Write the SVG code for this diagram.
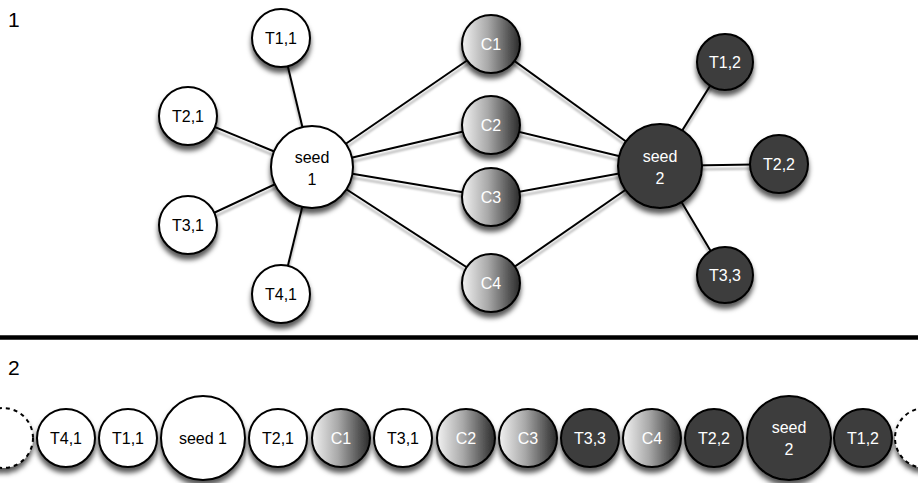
<svg xmlns="http://www.w3.org/2000/svg" width="918" height="483" viewBox="0 0 918 483">
<defs>
<linearGradient id="cg" x1="0" y1="0" x2="1" y2="0">
<stop offset="0" stop-color="#f2f2f2"/>
<stop offset="0.45" stop-color="#a8a8a8"/>
<stop offset="1" stop-color="#2a2a2a"/>
</linearGradient>
<filter id="sh" x="-30%" y="-30%" width="160%" height="170%">
<feDropShadow dx="0" dy="5" stdDeviation="2.5" flood-color="#000" flood-opacity="0.65"/>
</filter>
<filter id="lsh" x="-10%" y="-10%" width="120%" height="140%">
<feDropShadow dx="0" dy="4" stdDeviation="1.3" flood-color="#000" flood-opacity="0.3"/>
</filter>
</defs>
<style>
text{font-family:"Liberation Sans",Arial,sans-serif;font-size:16px;text-anchor:middle}
.w circle{fill:#fff;stroke:#000;stroke-width:2;filter:url(#sh)}
.d circle{fill:#3d3d3d;stroke:#000;stroke-width:2;filter:url(#sh)}
.c circle{fill:url(#cg);stroke:#000;stroke-width:2;filter:url(#sh)}
.w text{fill:#000}
.d text,.c text{fill:#fff}
.e line{stroke:#000;stroke-width:2}
.dash circle{fill:#fff;stroke:#000;stroke-width:2;stroke-dasharray:4 4;filter:url(#sh)}
.lbl{font-size:21px;text-anchor:start}
</style>
<rect width="918" height="483" fill="#fff"/>
<text class="lbl" x="8" y="27">1</text>
<text class="lbl" x="8" y="375">2</text>
<line x1="0" y1="337.5" x2="918" y2="337.5" stroke="#000" stroke-width="4.5"/>
<g id="edges" class="e" filter="url(#lsh)">
<line x1="312" y1="167" x2="281" y2="38"/>
<line x1="312" y1="167" x2="188" y2="116"/>
<line x1="312" y1="167" x2="188" y2="225"/>
<line x1="312" y1="167" x2="281" y2="294"/>
<line x1="312" y1="167" x2="491" y2="44"/>
<line x1="312" y1="167" x2="491" y2="125"/>
<line x1="312" y1="167" x2="491" y2="197"/>
<line x1="312" y1="167" x2="491" y2="283"/>
<line x1="660" y1="166" x2="491" y2="44"/>
<line x1="660" y1="166" x2="491" y2="125"/>
<line x1="660" y1="166" x2="491" y2="197"/>
<line x1="660" y1="166" x2="491" y2="283"/>
<line x1="660" y1="166" x2="725" y2="62"/>
<line x1="660" y1="166" x2="779" y2="164"/>
<line x1="660" y1="166" x2="725" y2="275"/>
</g>
<g id="t11" class="w"><circle cx="281" cy="38" r="29"/><text x="281" y="44">T1,1</text></g>
<g id="t21" class="w"><circle cx="188" cy="116" r="29"/><text x="188" y="122">T2,1</text></g>
<g id="t31" class="w"><circle cx="188" cy="225" r="29"/><text x="188" y="231">T3,1</text></g>
<g id="t41" class="w"><circle cx="281" cy="294" r="29"/><text x="281" y="300">T4,1</text></g>
<g id="seed1" class="w"><circle cx="312" cy="167" r="41"/><text x="312" y="163">seed</text><text x="312" y="185">1</text></g>
<g id="c1" class="c"><circle cx="491" cy="44" r="29"/><text x="491" y="50">C1</text></g>
<g id="c2" class="c"><circle cx="491" cy="125" r="29"/><text x="491" y="131">C2</text></g>
<g id="c3" class="c"><circle cx="491" cy="197" r="29"/><text x="491" y="203">C3</text></g>
<g id="c4" class="c"><circle cx="491" cy="283" r="29"/><text x="491" y="289">C4</text></g>
<g id="seed2" class="d"><circle cx="660" cy="166" r="42"/><text x="660" y="162">seed</text><text x="660" y="184">2</text></g>
<g id="t12" class="d"><circle cx="725" cy="62" r="28"/><text x="725" y="68">T1,2</text></g>
<g id="t22" class="d"><circle cx="779" cy="164" r="29"/><text x="779" y="170">T2,2</text></g>
<g id="t33" class="d"><circle cx="725" cy="275" r="28"/><text x="725" y="281">T3,3</text></g>
<g id="row">
<g id="r-dl" class="dash"><circle cx="3" cy="438" r="30"/></g>
<g id="r-t41" class="w"><circle cx="66" cy="438" r="29"/><text x="66" y="444">T4,1</text></g>
<g id="r-t11" class="w"><circle cx="128" cy="438" r="29"/><text x="128" y="444">T1,1</text></g>
<g id="r-seed1" class="w"><circle cx="203" cy="438" r="42"/><text x="203" y="444">seed 1</text></g>
<g id="r-t21" class="w"><circle cx="278" cy="438" r="29"/><text x="278" y="444">T2,1</text></g>
<g id="r-c1" class="c"><circle cx="341" cy="438" r="29"/><text x="341" y="444">C1</text></g>
<g id="r-t31" class="w"><circle cx="403" cy="438" r="29"/><text x="403" y="444">T3,1</text></g>
<g id="r-c2" class="c"><circle cx="466" cy="438" r="29"/><text x="466" y="444">C2</text></g>
<g id="r-c3" class="c"><circle cx="528" cy="438" r="29"/><text x="528" y="444">C3</text></g>
<g id="r-t33" class="d"><circle cx="590" cy="438" r="29"/><text x="590" y="444">T3,3</text></g>
<g id="r-c4" class="c"><circle cx="652" cy="438" r="29"/><text x="652" y="444">C4</text></g>
<g id="r-t22" class="d"><circle cx="714" cy="438" r="29"/><text x="714" y="444">T2,2</text></g>
<g id="r-seed2" class="d"><circle cx="789" cy="438" r="42"/><text x="789" y="433">seed</text><text x="789" y="455">2</text></g>
<g id="r-t12" class="d"><circle cx="863" cy="438" r="29"/><text x="863" y="444">T1,2</text></g>
<g id="r-dr" class="dash"><circle cx="925" cy="438" r="30"/></g>
</g>
</svg>
